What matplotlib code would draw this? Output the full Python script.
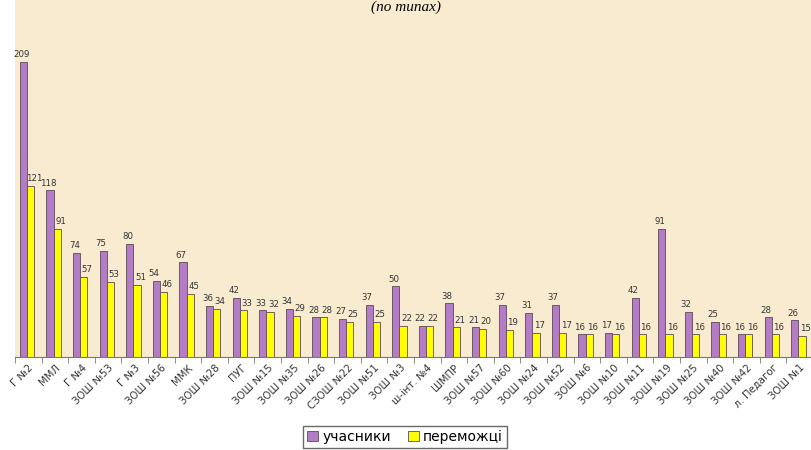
import matplotlib.pyplot as plt
import numpy as np

schools = ["Г №2", "ММЛ", "Г №4", "ЗОШ №53", "Г №3", "ЗОШ №56", "ММК", "ЗОШ №28",
           "ПУГ", "ЗОШ №15", "ЗОШ №35", "ЗОШ №26", "СЗОШ №22", "ЗОШ №51", "ЗОШ №3",
           "ш-інт. №4", "ШМПР", "ЗОШ №57", "ЗОШ №60", "ЗОШ №24", "ЗОШ №52", "ЗОШ №6",
           "ЗОШ №10", "ЗОШ №11", "ЗОШ №19", "ЗОШ №25", "ЗОШ №40", "ЗОШ №42",
           "л. Педагог", "ЗОШ №1"]
participants = [209, 118, 74, 75, 80, 54, 67, 36, 42, 33, 34, 28, 27, 37, 50,
                22, 38, 21, 37, 31, 37, 16, 17, 42, 91, 32, 25, 16, 28, 26]
winners = [121, 91, 57, 53, 51, 46, 45, 34, 33, 32, 29, 28, 25, 25, 22,
           22, 21, 20, 19, 17, 17, 16, 16, 16, 16, 16, 16, 16, 16, 15]

purple = "#B47CC7"
yellow = "#FFFF00"
edge = "#5a4a55"

fig = plt.figure(figsize=(8.12, 4.5), dpi=100)
ax = fig.add_axes([15 / 812, 1 - 357 / 450, 798 / 812, 357 / 450])
ax.set_facecolor("#F8EBD0")

x = np.arange(len(schools))
w = 0.27
b1 = ax.bar(x - w / 2 - 0.05, participants, w, color=purple, edgecolor=edge,
            linewidth=0.6, label="учасники")
b2 = ax.bar(x + w / 2 - 0.05, winners, w, color=yellow, edgecolor=edge,
            linewidth=0.6, label="переможці")

# value labels: purple ones nudged left, yellow ones nudged right (as in the original)
for bars, dx in ((b1, -1.5), (b2, 2.5)):
    for r in bars:
        ax.annotate(f"{int(r.get_height())}", (r.get_x() + r.get_width() / 2, r.get_height()),
                    xytext=(dx, 2), textcoords="offset points", ha="center", va="bottom",
                    fontsize=6.2, color="#333333")

ax.set_xlim(-0.5, len(schools) - 0.5)
ax.set_ylim(0, 253)
ax.set_yticks([])
ax.set_xticks(x)
ax.set_xticklabels(schools, rotation=45, ha="right", rotation_mode="anchor",
                   fontsize=7.3, color="#333333")
ax.tick_params(axis="x", which="major", length=0, pad=4)
ax.set_xticks(np.arange(len(schools) + 1) - 0.5, minor=True)
ax.tick_params(axis="x", which="minor", length=4, color="#777777")
for s in ["top", "right", "left"]:
    ax.spines[s].set_visible(False)
ax.spines["bottom"].set_color("#777777")

fig.text(0.5, 0.998, "(по типах)", ha="center", va="top", fontsize=11,
         style="italic", family="Liberation Serif")

leg = fig.legend(handles=[b1, b2], loc="center", bbox_to_anchor=(405 / 812, 1 - 437 / 450),
                 ncol=2, fontsize=10, frameon=True, fancybox=False, edgecolor="#444444",
                 handlelength=0.8, handleheight=0.8, handletextpad=0.3,
                 columnspacing=1.2, borderpad=0.3)

fig.savefig("out.png", dpi=100, facecolor="white")
